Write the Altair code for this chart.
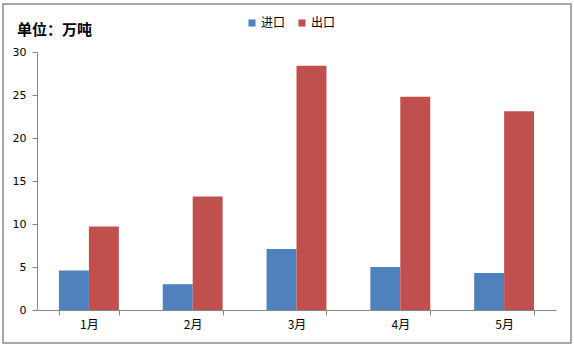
import altair as alt
import pandas as pd

months = ["1月", "2月", "3月", "4月", "5月"]
imports = [4.6, 3.0, 7.1, 5.0, 4.3]
exports = [9.7, 13.2, 28.4, 24.8, 23.1]
series = ["进口", "出口"]
colors = ["#4F81BD", "#C0504D"]
unit_title = "单位：万吨"

rows = []
for m, a, b in zip(months, imports, exports):
    rows.append({"month": m, "type": series[0], "value": a})
    rows.append({"month": m, "type": series[1], "value": b})
df = pd.DataFrame(rows)

W, H = 519, 258

bars = alt.Chart(df).mark_bar().encode(
    x=alt.X("month:N", sort=months, title=None,
            scale=alt.Scale(paddingInner=0.423, paddingOuter=0.2115),
            axis=alt.Axis(labelAngle=0, tickBand="extent", tickSize=5,
                          domainColor="#868686", tickColor="#868686",
                          labelFont="Noto Sans CJK SC", labelFontSize=12,
                          labelColor="#000000", labelPadding=4, grid=False)),
    xOffset=alt.XOffset("type:N", sort=series, scale=alt.Scale(paddingInner=0, paddingOuter=0)),
    y=alt.Y("value:Q", title=None,
            scale=alt.Scale(domain=[0, 30], nice=False),
            axis=alt.Axis(values=[0, 5, 10, 15, 20, 25, 30], tickSize=5,
                          domainColor="#868686", tickColor="#868686",
                          labelFont="DejaVu Sans", labelFontSize=11,
                          labelColor="#000000", labelPadding=6, grid=False)),
    color=alt.Color("type:N", sort=series,
                    scale=alt.Scale(domain=series, range=colors),
                    legend=alt.Legend(title=None, orient="none", direction="horizontal",
                                      legendX=209, legendY=-35,
                                      symbolType="square", symbolSize=50,
                                      symbolStrokeWidth=0,
                                      labelFont="Noto Sans CJK SC", labelFontSize=12,
                                      labelColor="#000000", columnPadding=10,
                                      labelOffset=3)),
)

title = alt.Chart(pd.DataFrame({"t": [unit_title]})).mark_text(
    align="left", baseline="middle", font="Noto Sans CJK SC",
    fontSize=15, fontWeight="bold", color="#000000"
).encode(text="t:N", x=alt.value(-20), y=alt.value(-22))

frame = alt.Chart(pd.DataFrame({"a": [0]})).mark_rect(
    fill=None, stroke="#8c8c8c", strokeWidth=1.5
).encode(x=alt.value(-34), x2=alt.value(534), y=alt.value(-48), y2=alt.value(291))

chart = alt.layer(frame, bars, title).properties(
    width=W, height=H,
    background="white",
    autosize=alt.AutoSizeParams(type="none"),
    padding={"left": 37, "top": 52, "right": 18, "bottom": 38},
).configure_view(stroke=None)

chart.save("out.html", embed_options={"renderer": "svg", "actions": False})
